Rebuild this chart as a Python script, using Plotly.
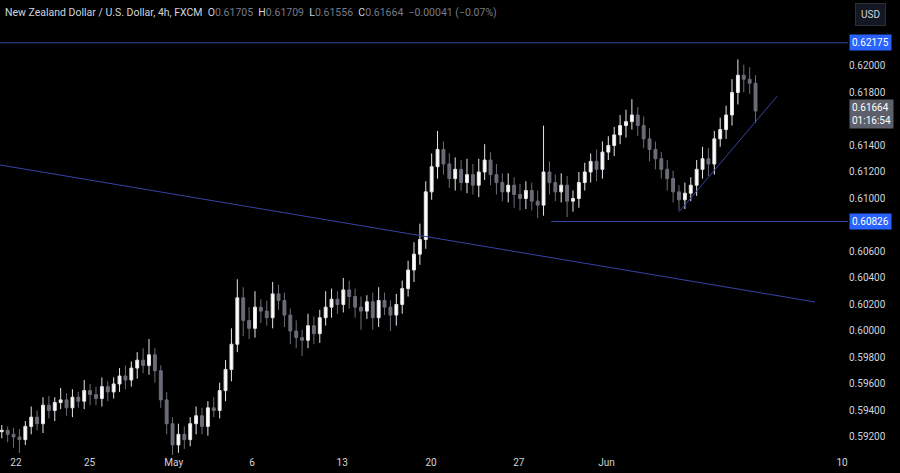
import plotly.graph_objects as go

# closes in pips above 0.5900, one candle per 8h
closes = [25, 22, 20, 18, 28, 35, 30, 44, 40, 46, 48, 42, 50, 47, 55, 52, 49, 58, 54, 60,
          66, 63, 72, 78, 74, 82, 70, 48, 30, 14, 22, 18, 30, 36, 28, 42, 40, 55, 71, 90,
          125, 108, 102, 118, 115, 110, 128, 123, 112, 100, 95, 93, 104, 98, 110, 118, 124, 120, 131, 126,
          118, 115, 122, 110, 123, 118, 112, 120, 132, 146, 158, 169, 205, 224, 237, 226, 215, 222, 212, 218,
          210, 220, 229, 218, 212, 205, 210, 203, 200, 206, 198, 195, 220, 212, 205, 210, 198, 200, 212, 220,
          228, 222, 235, 240, 248, 255, 258, 263, 255, 245, 237, 230, 222, 215, 205, 199, 204, 210, 222, 230,
          226, 245, 252, 263, 280, 293, 290, 287, 266]
wick_up = [4, 3, 5, 6, 4, 8, 5, 6, 7, 4, 9, 5, 6, 4, 8, 5, 6, 7, 4, 5,
           6, 8, 5, 6, 9, 12, 5, 4, 6, 5, 8, 6, 5, 7, 6, 5, 8, 6, 7, 12,
           14, 8, 10, 12, 6, 8, 9, 7, 6, 5, 8, 6, 9, 7, 6, 12, 8, 6, 9, 7,
           6, 8, 5, 7, 10, 6, 5, 8, 6, 7, 9, 12, 8, 10, 14, 6, 8, 9, 7, 12,
           8, 10, 12, 6, 8, 7, 9, 6, 8, 7, 6, 8, 35, 8, 6, 9, 7, 6, 8, 7,
           6, 9, 8, 7, 6, 8, 9, 12, 6, 7, 8, 6, 5, 7, 6, 5, 8, 6, 7, 9,
           8, 6, 9, 7, 10, 12, 8, 9, 6]
wick_dn = [5, 6, 8, 10, 4, 6, 5, 7, 6, 8, 5, 6, 7, 5, 6, 8, 5, 6, 7, 5,
           6, 7, 5, 8, 6, 7, 9, 6, 8, 12, 6, 7, 5, 8, 6, 7, 5, 6, 8, 9,
           6, 12, 8, 7, 9, 6, 8, 7, 9, 10, 8, 12, 6, 8, 7, 6, 8, 7, 6, 9,
           8, 14, 6, 9, 7, 6, 12, 8, 7, 6, 9, 8, 7, 6, 9, 8, 7, 9, 6, 8,
           7, 9, 6, 8, 9, 7, 8, 10, 9, 8, 7, 10, 8, 9, 7, 8, 12, 8, 7, 6,
           8, 9, 7, 6, 8, 7, 9, 6, 8, 7, 9, 8, 7, 9, 8, 8, 7, 6, 8, 7,
           9, 8, 6, 7, 8, 9, 10, 8, 9]
first_open = 24

tick_pos = [2.4, 14.9, 29.2, 42.5, 57.8, 72.9, 87.8, 102.7, 142.7]
tick_text = ["22", "25", "May", "6", "13", "20", "27", "Jun", "10"]
resistance = 0.62175
support = 0.60826
last_price = 0.61664

opens = [first_open] + closes[:-1]
xs = list(range(len(closes)))
o = [0.59 + v / 10000 for v in opens]
c = [0.59 + v / 10000 for v in closes]
h = [max(a, b) + w / 10000 for a, b, w in zip(o, c, wick_up)]
l = [min(a, b) - w / 10000 for a, b, w in zip(o, c, wick_dn)]

fig = go.Figure()
fig.add_trace(go.Candlestick(
    x=xs, open=o, high=h, low=l, close=c,
    increasing=dict(line=dict(color="#e6e6e6", width=1), fillcolor="#ffffff"),
    decreasing=dict(line=dict(color="#6a6d78", width=1), fillcolor="#6a6d78"),
    whiskerwidth=0, showlegend=False, hoverinfo="skip",
))

line_col = "#3444a8"
fig.add_shape(type="line", xref="paper", x0=0, x1=1, y0=resistance, y1=resistance,
              line=dict(color=line_col, width=1))
fig.add_shape(type="line", x0=93.3, x1=143.7, y0=support, y1=support, line=dict(color=line_col, width=1))
fig.add_shape(type="line", x0=-0.3, x1=138.1, y0=0.61253, y1=0.60219, line=dict(color=line_col, width=1))
fig.add_shape(type="line", x0=115, x1=131.7, y0=0.60898, y1=0.61774, line=dict(color=line_col, width=1))

for val, bg in [(resistance, "#2962ff"), (support, "#2962ff")]:
    fig.add_annotation(xref="paper", x=1.0, xanchor="left", xshift=1, y=val, text=f"{val:.5f}",
                       showarrow=False, bgcolor=bg, font=dict(color="white", size=10), borderpad=2)
fig.add_annotation(xref="paper", x=1.0, xanchor="left", xshift=1, y=last_price - 0.00025,
                   text=f"{last_price:.5f}<br>01:16:54", showarrow=False, bgcolor="#5d606b",
                   font=dict(color="white", size=10), borderpad=2, align="left")

fig.add_annotation(xref="paper", yref="paper", x=0.003, y=1.0, xanchor="left", yanchor="top", yshift=-4,
                   showarrow=False, font=dict(color="#d1d4dc", size=10.5, family="Roboto"),
                   text=("New Zealand Dollar / U.S. Dollar, 4h, FXCM  "
                         "O<span style='color:#787b86'>0.61705</span>  H<span style='color:#787b86'>0.61709</span>  "
                         "L<span style='color:#787b86'>0.61556</span>  C<span style='color:#787b86'>0.61664</span>  "
                         "<span style='color:#787b86'>−0.00041 (−0.07%)</span>"))
fig.add_annotation(xref="paper", yref="paper", x=1.0, y=1.0, xanchor="left", yanchor="top", xshift=7, yshift=-3,
                   showarrow=False, text="USD", font=dict(color="#d1d4dc", size=10),
                   bgcolor="#131722", bordercolor="#2a2e39", borderwidth=1, borderpad=5)

fig.update_layout(
    width=900, height=473, paper_bgcolor="#000000", plot_bgcolor="#000000",
    margin=dict(l=0, r=52, t=0, b=18, autoexpand=False),
    font=dict(family="Roboto", color="#d1d4dc", size=10),
    xaxis=dict(range=[-0.3, 143.7], tickvals=tick_pos, ticktext=tick_text, showgrid=False,
               zeroline=False, rangeslider=dict(visible=False), ticks="", tickfont=dict(color="#d1d4dc"),
               automargin=False),
    yaxis=dict(side="right", range=[0.59064, 0.62498], tickformat=".5f", showgrid=False,
               zeroline=False, ticks="", tickfont=dict(color="#d1d4dc"), automargin=False,
               tickvals=[0.592, 0.594, 0.596, 0.598, 0.600, 0.602, 0.604, 0.606, 0.610, 0.612,
                         0.614, 0.618, 0.620]),
)
fig.write_html("out.html", config={"displayModeBar": False},
               post_script="document.body.style.margin='0';document.body.style.background='#000';")
